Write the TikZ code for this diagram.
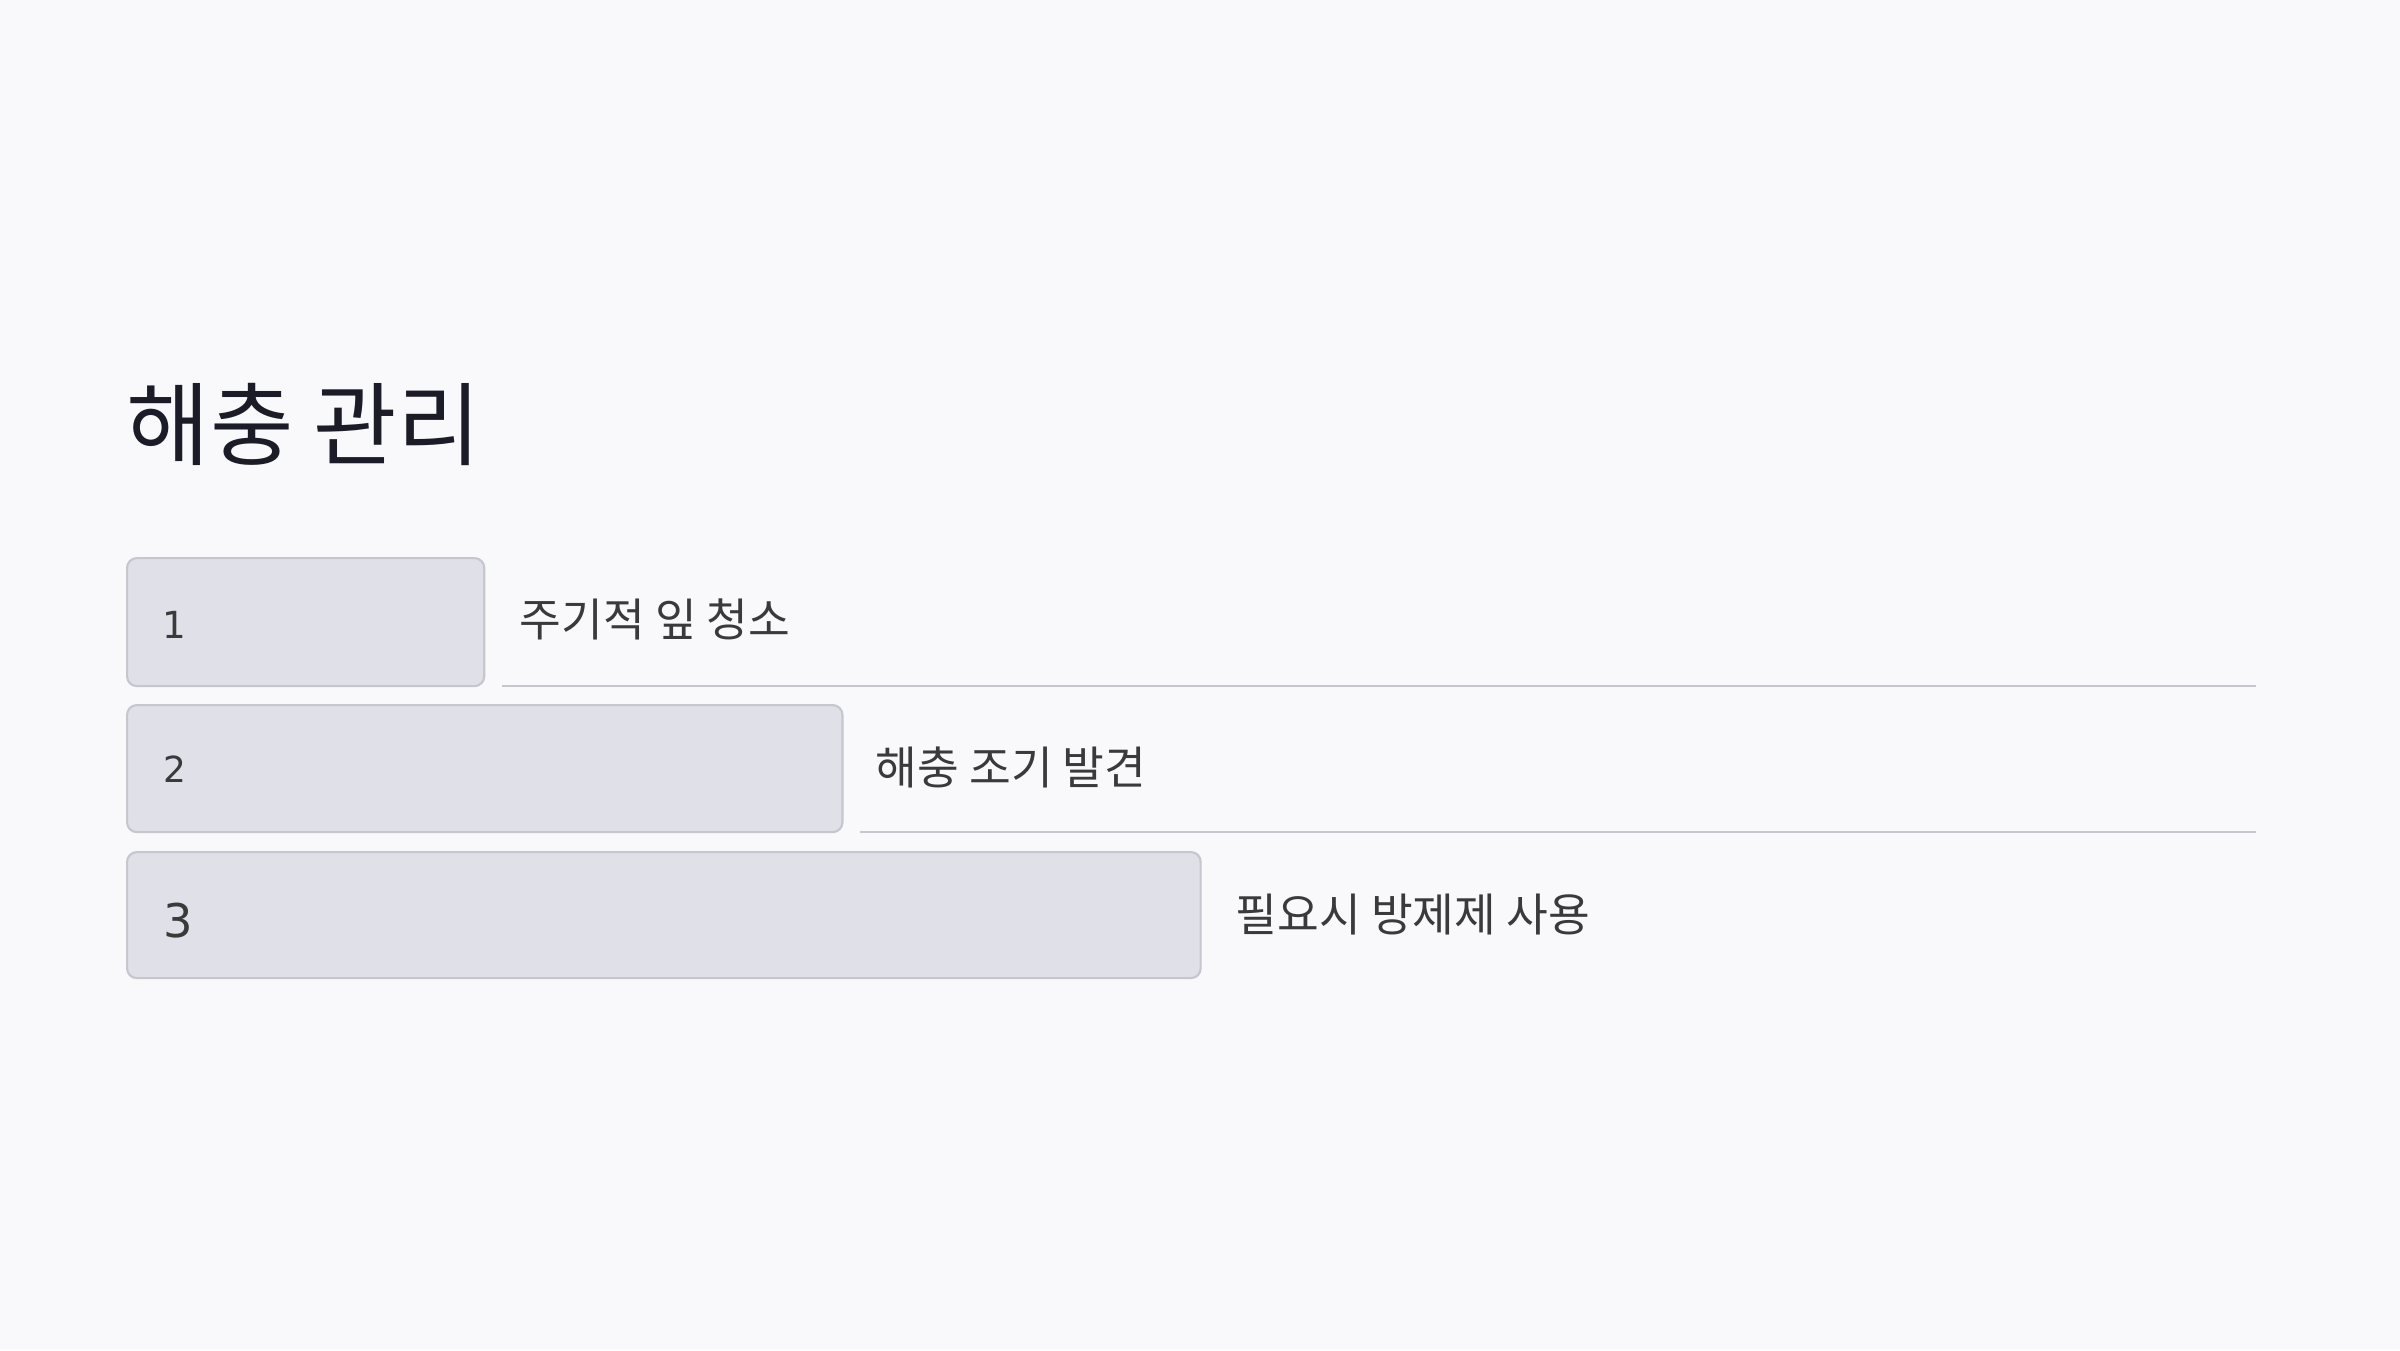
\documentclass[tikz,border=0pt]{standalone}
\usepackage{fontspec}
\setmainfont{Noto Sans CJK KR}
\newfontfamily\digitfont{DejaVu Sans}
\definecolor{bg}{HTML}{F9F9FB}
\definecolor{boxfill}{HTML}{E0E0E8}
\definecolor{boxline}{HTML}{C6C6CE}
\definecolor{titlecol}{HTML}{1C1C28}
\definecolor{textcol}{HTML}{3A3A3A}
\tikzset{
  barbox/.style={draw=boxline, fill=boxfill, line width=0.6pt, rounded corners=2.8pt, anchor=north west, inner sep=0pt},
  numlabel/.style={anchor=base west, inner sep=0pt, text=textcol, font=\digitfont},
  itemlabel/.style={anchor=west, inner sep=0pt, text=textcol, font=\fontsize{12.9pt}{15pt}\selectfont},
  underline/.style={draw=boxline, line width=0.55pt}
}
\begin{document}
\begin{tikzpicture}[x=0.01cm, y=-0.01cm]
\fill[bg] (0,0) rectangle (2400,1350);
\useasboundingbox (0,0) rectangle (2400,1350);

\node[anchor=west, inner sep=0pt, text=titlecol, font=\fontsize{25.8pt}{30pt}\selectfont] (title) at (126,424) {해충 관리};

\node[barbox, minimum width=3.57cm, minimum height=1.28cm] (b1) at (126,557) {};
\node[barbox, minimum width=7.15cm, minimum height=1.27cm] (b2) at (126,704) {};
\node[barbox, minimum width=10.73cm, minimum height=1.26cm] (b3) at (126,851) {};

\node[numlabel, font=\digitfont\fontsize{10.6pt}{12pt}\selectfont] (n1) at (162,638) {1};
\node[numlabel, font=\digitfont\fontsize{10.2pt}{12pt}\selectfont] (n2) at (163,782) {2};
\node[numlabel, font=\digitfont\fontsize{13.2pt}{15pt}\selectfont] (n3) at (163,937) {3};

\node[itemlabel] (t1) at (519,619.5) {주기적 잎 청소};
\node[itemlabel] (t2) at (875,767) {해충 조기 발견};
\node[itemlabel] (t3) at (1235,914.5) {필요시 방제제 사용};

\coordinate (l1a) at (502,686);
\coordinate (l1b) at (2256,686);
\coordinate (l2a) at (860,832);
\coordinate (l2b) at (2256,832);
\draw[underline] (l1a) -- (l1b);
\draw[underline] (l2a) -- (l2b);
\end{tikzpicture}
\end{document}
